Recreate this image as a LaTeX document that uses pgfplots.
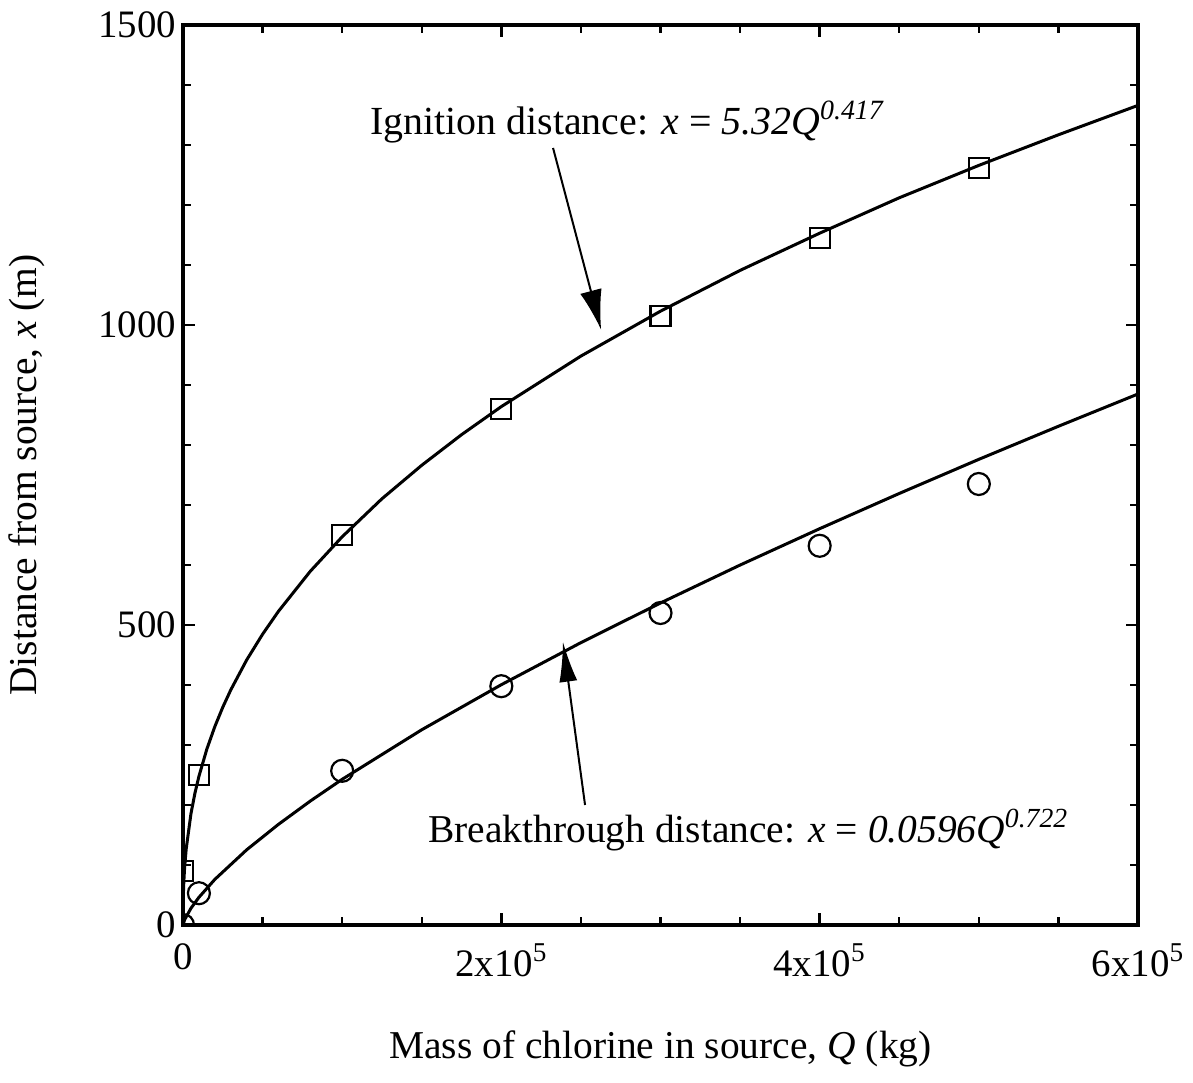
\documentclass[border=0pt]{standalone}
\usepackage{fontspec}
\setmainfont{Liberation Serif}
\usepackage{pgfplots}
\pgfplotsset{compat=1.18}
\usetikzlibrary{arrows.meta}

\begin{document}
\begin{tikzpicture}
\useasboundingbox (-91.5bp,-79bp) rectangle (505bp,462.5bp);
\begin{axis}[
  scale only axis, width=477.5bp, height=450bp,
  xmin=0, xmax=600000, ymin=0, ymax=1500,
  axis line style={line width=1.6bp},
  tick style={line width=1.2bp, black},
  tick align=inside,
  xtick={0,200000,400000,600000},
  xticklabels={0, 2x10\textsuperscript{5}, 4x10\textsuperscript{5}, 6x10\textsuperscript{5}},
  minor xtick={50000,100000,150000,250000,300000,350000,450000,500000,550000},
  ytick={0,500,1000,1500},
  minor ytick={100,200,300,400,600,700,800,900,1100,1200,1300,1400},
  major tick length=6bp, minor tick length=4bp,
  scaled ticks=false,
  /pgf/number format/1000 sep={},
  /pgf/number format/assume math mode=true,
  ticklabel style={font=\fontsize{19.5}{22}\selectfont},
  xticklabel shift=6bp,
  xlabel={Mass of chlorine in source, \textit{Q} (kg)},
  ylabel={Distance from source, \textit{x} (m)},
  label style={font=\fontsize{19.8}{23}\selectfont},
  xlabel shift=20bp,
  ylabel shift=20bp,
]
% ignition distance fit, x = 5.32 Q^0.417
\addplot[black, line width=1.5bp, sharp plot] coordinates {
  (0,0)(20,18.5)(100,36.3)(200,48.5)(500,71.0)(1000,94.8)(2000,126.6)
  (5000,185.5)(7500,219.7)(10000,247.7)(15000,293.3)(20000,330.7)(25000,363.0)
  (30000,391.7)(40000,441.7)(50000,484.6)(60000,522.9)(80000,589.6)
  (100000,647)(125000,710.4)(150000,766.2)(175000,817.2)(200000,864.0)
  (250000,948.2)(300000,1023)(350000,1091)(400000,1153)(450000,1212)
  (500000,1266)(550000,1317)(600000,1366)};
% breakthrough distance fit, x = 0.0596 Q^0.722
\addplot[black, line width=1.5bp, sharp plot] coordinates {
  (0,0)(1000,8.7)(5000,27.9)(10000,46.1)(20000,76.0)(40000,125.3)
  (60000,167.8)(80000,206.6)(100000,242.8)(150000,325.4)(200000,400.5)
  (250000,470.6)(300000,536.7)(350000,599.9)(400000,660.5)(450000,719.2)
  (500000,776.1)(550000,831.2)(600000,885)};
\addplot[only marks, mark=square, mark size=5bp, mark options={line width=1.1bp}]
  coordinates {(10000,250)(100000,650)(200000,860)(300000,1015)(400000,1145)(500000,1262)};
\addplot[only marks, mark=o, mark size=5.5bp, mark options={line width=1.1bp}]
  coordinates {(10000,53)(100000,257)(200000,398)(300000,520)(400000,632)(500000,735)};
\addplot[only marks, mark=square, mark size=5bp, mark options={line width=1.1bp},
  clip marker paths=true] coordinates {(0,90)};
\addplot[only marks, mark=o, mark size=5.5bp, mark options={line width=1.1bp},
  clip marker paths=true] coordinates {(0,0)};

\node[anchor=base west, font=\fontsize{20}{24}\selectfont, inner sep=0pt]
  at (axis cs:117500,1317) {Ignition distance: \textit{x} = \textit{5.32Q}\textsuperscript{\textit{0.417}}};
\node[anchor=base west, font=\fontsize{19.8}{24}\selectfont, inner sep=0pt]
  at (axis cs:153900,137) {Breakthrough distance: \textit{x} = \textit{0.0596Q}\textsuperscript{\textit{0.722}}};
\draw[-{Latex[length=20bp,width=11bp]}, line width=1bp]
  (axis cs:232500,1295) -- (axis cs:262700,992);
\draw[-{Latex[length=20bp,width=9bp]}, line width=1bp]
  (axis cs:252600,200) -- (axis cs:238700,472);
\end{axis}
\end{tikzpicture}
\end{document}
